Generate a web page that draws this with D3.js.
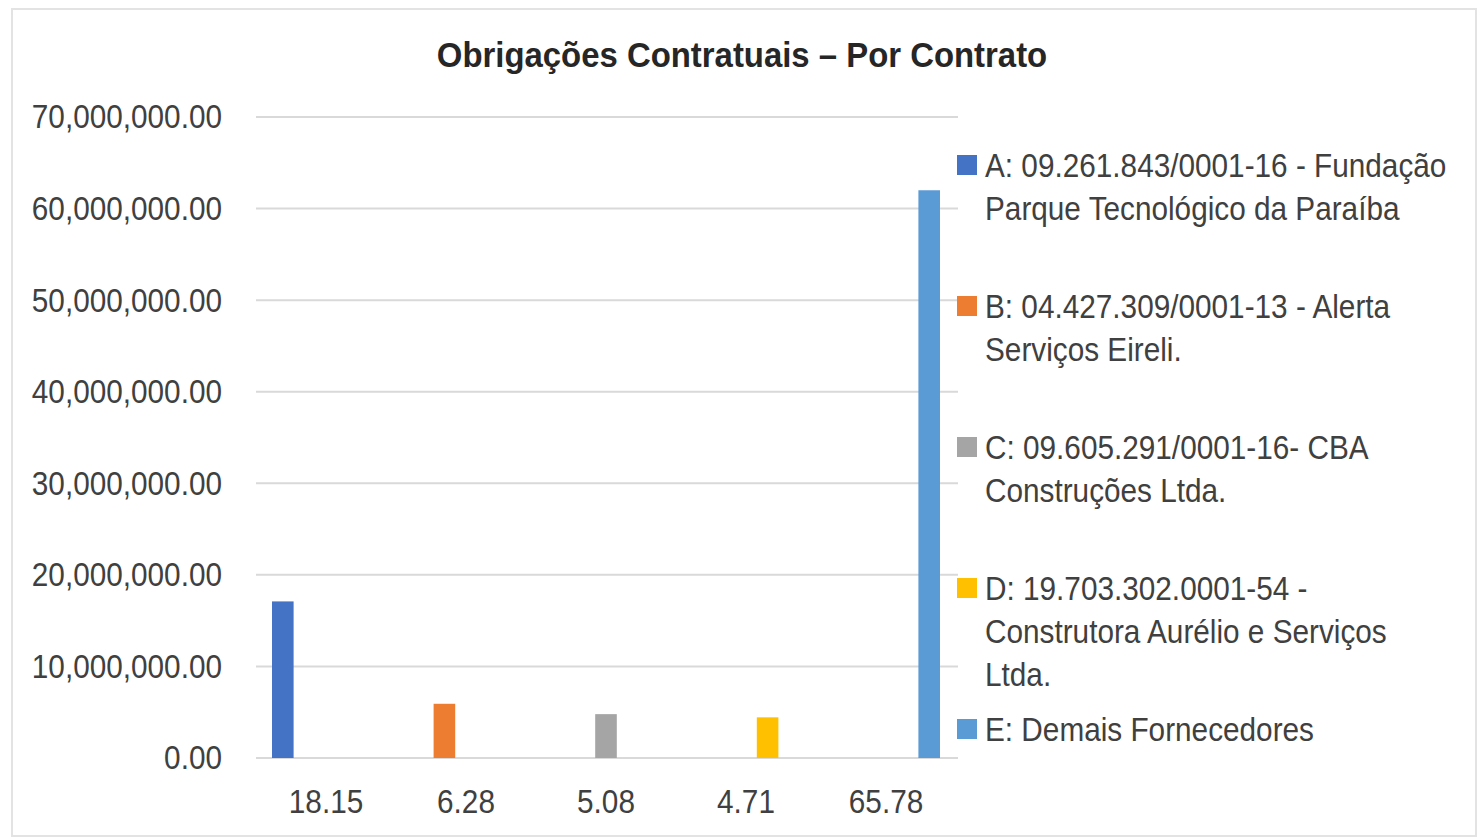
<!DOCTYPE html>
<html lang="pt">
<meta charset="utf-8">
<style>
body { margin: 0; background: #fff; }
text { font-family: "Liberation Sans", Arial, sans-serif; fill: #404040; }
</style>
<body>
<script src="https://d3js.org/d3.v7.min.js"></script>
<div id="chart"></div>
<script>
// data
var categories = ["18.15", "6.28", "5.08", "4.71", "65.78"];
var series = ["A", "B", "C", "D", "E"];
var values = [17100000, 5920000, 4790000, 4440000, 62000000];
var legendLines = [
  ["A: 09.261.843/0001-16 - Fundação", "Parque Tecnológico da Paraíba"],
  ["B: 04.427.309/0001-13 - Alerta", "Serviços Eireli."],
  ["C: 09.605.291/0001-16- CBA", "Construções Ltda."],
  ["D: 19.703.302.0001-54 -", "Construtora Aurélio e Serviços", "Ltda."],
  ["E: Demais Fornecedores"]
];
var colors = ["#4472C4", "#ED7D31", "#A5A5A5", "#FFC000", "#5B9BD5"];
var yTicks = [0, 10000000, 20000000, 30000000, 40000000, 50000000, 60000000, 70000000];

var width = 1482, height = 839;
var squeeze = 0.875; // the source font is a narrow face

var svg = d3.select("#chart").append("svg")
    .attr("width", width)
    .attr("height", height);

// outer frame
svg.append("rect")
    .attr("x", 12).attr("y", 9)
    .attr("width", 1464).attr("height", 827)
    .attr("fill", "#fff")
    .attr("stroke", "#e3e3e3")
    .attr("stroke-width", 2);

svg.append("text")
    .attr("transform", "translate(742,67) scale(0.94,1)")
    .attr("text-anchor", "middle")
    .style("font-size", "35px")
    .style("font-weight", "bold")
    .style("fill", "#262626")
    .text("Obrigações Contratuais – Por Contrato");

var x = d3.scaleBand().domain(categories).range([256, 956]);
var xInner = d3.scaleBand().domain(series).range([16, x.bandwidth() - 16]);
var y = d3.scaleLinear().domain([0, 70000000]).range([758, 117]);
var fmt = d3.format(",.2f");

// gridlines
svg.append("g").selectAll("line")
    .data(yTicks)
  .enter().append("line")
    .attr("x1", 256).attr("x2", 958)
    .attr("y1", function(d) { return y(d); })
    .attr("y2", function(d) { return y(d); })
    .attr("stroke", "#d9d9d9")
    .attr("stroke-width", 2);

var yAxis = svg.append("g")
    .attr("transform", "translate(256,0)")
    .call(d3.axisLeft(y).tickValues(yTicks).tickFormat(fmt).tickSize(0));
yAxis.select(".domain").remove();
yAxis.selectAll("text")
    .attr("x", -34 / squeeze)
    .attr("transform", "scale(" + squeeze + ",1)")
    .style("font-size", "34px").style("fill", "#404040");

var xAxis = svg.append("g")
    .attr("transform", "translate(0,758)")
    .call(d3.axisBottom(x).tickSize(0).tickPadding(31));
xAxis.select(".domain").remove();
xAxis.selectAll("text")
    .attr("transform", "scale(" + squeeze + ",1)")
    .style("font-size", "34px").style("fill", "#404040");

// one bar per category, each in its own series slot
svg.append("g").selectAll("rect")
    .data(values)
  .enter().append("rect")
    .attr("x", function(d, i) { return x(categories[i]) + xInner(series[i]); })
    .attr("width", xInner.bandwidth())
    .attr("y", function(d) { return y(d); })
    .attr("height", function(d) { return y(0) - y(d); })
    .attr("fill", function(d, i) { return colors[i]; });

// legend
var legend = svg.append("g").selectAll("g")
    .data(legendLines)
  .enter().append("g")
    .attr("transform", function(d, i) { return "translate(957," + (165 + i * 141) + ")"; });

legend.append("rect")
    .attr("x", 0).attr("y", -10)
    .attr("width", 20).attr("height", 20)
    .attr("fill", function(d, i) { return colors[i]; });

legend.append("text")
    .attr("transform", "translate(28,0) scale(" + squeeze + ",1)")
    .style("font-size", "34px")
    .selectAll("tspan")
    .data(function(d) { return d; })
  .enter().append("tspan")
    .attr("x", 0)
    .attr("y", function(d, j) { return 12 + j * 43; })
    .text(function(d) { return d; });
</script>
</body>
</html>
